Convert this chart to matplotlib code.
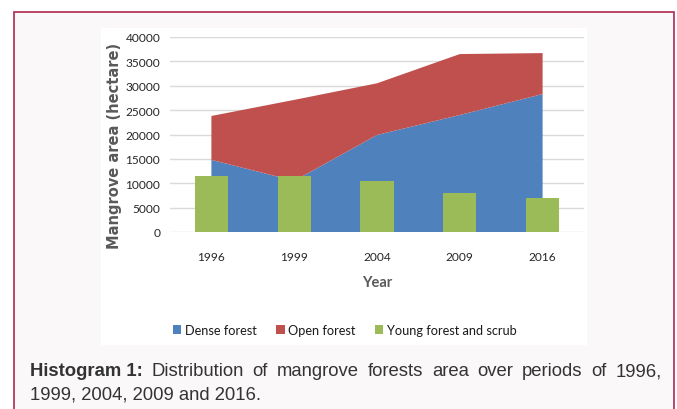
import matplotlib
matplotlib.use("Agg")
import matplotlib.pyplot as plt
from matplotlib.patches import Rectangle
import numpy as np

# data (hectare)
years = ["1996", "1999", "2004", "2009", "2016"]
dense = [14800, 10500, 19900, 24000, 28300]
open_forest = [9000, 16600, 10600, 12500, 8400]
young = [11500, 11500, 10500, 7900, 7000]

caption_bold = "Histogram 1:"
caption_line1 = "Distribution of mangrove forests area over periods of 1996,"
caption_line2 = "1999, 2004, 2009 and 2016."

BLUE = "#4f81bd"
RED = "#c0504d"
GREEN = "#9bbb59"
NARROW = ["Lato", "DejaVu Sans"]

W, H = 677, 410
fig = plt.figure(figsize=(W / 100, H / 100), dpi=100)
fig.patch.set_facecolor("white")

def fx(px):
    return px / W

def fy(py):
    return 1 - py / H

# framed box and white chart panel
fig.patches.append(Rectangle((fx(13.5), fy(430)), fx(660), 417 / H, transform=fig.transFigure,
                             facecolor="#fbf8f9", edgecolor="#b0284f", linewidth=1.2, zorder=-2))
fig.patches.append(Rectangle((fx(101), fy(346)), fx(486), 317 / H, transform=fig.transFigure,
                             facecolor="white", edgecolor="none", zorder=-1))

ax = fig.add_axes([fx(170), fy(233), fx(414), 195 / H])
ax.set_zorder(1)
ax.set_facecolor("none")
x = np.arange(len(years))

ax.stackplot(x, dense, open_forest, colors=[BLUE, RED], labels=["Dense forest", "Open forest"],
             edgecolor="none", zorder=2)
ax.bar(x, young, width=0.4, color=GREEN, label="Young forest and scrub", zorder=3)

ax.set_xlim(-0.5, len(years) - 0.5)
ax.set_ylim(0, 40000)
ax.set_yticks(np.arange(0, 40001, 5000))
ax.set_xticks(x)
ax.set_xticklabels(years)
ax.grid(axis="y", color="#d9d9d9", linewidth=1, zorder=1)
ax.set_axisbelow(True)
for s in ax.spines.values():
    s.set_visible(False)
ax.tick_params(axis="both", length=0, labelsize=8.6, labelcolor="#262626")
ax.tick_params(axis="y", pad=7)
ax.tick_params(axis="x", pad=14)
for lab in ax.get_xticklabels() + ax.get_yticklabels():
    lab.set_family(NARROW)

fig.text(fx(115), fy(146), "Mangrove area (hectare)", rotation=90, ha="center", va="center",
         fontsize=10.5, fontweight="bold", color="#595959", family=["DejaVu Sans"])
fig.text(fx(377), fy(283), "Year", ha="center", va="center", fontsize=10.5,
         fontweight="bold", color="#595959", family=NARROW)

h, l = ax.get_legend_handles_labels()
leg = fig.legend(h, l, loc="center", bbox_to_anchor=(fx(345), fy(331)), ncol=3, frameon=False,
                 handlelength=0.65, handleheight=0.65, handletextpad=0.3, columnspacing=1.5,
                 prop={"family": NARROW, "size": 9.2})
for t in leg.get_texts():
    t.set_color("#1a1a1a")

# caption, first line justified between the frame margins
renderer = fig.canvas.get_renderer()
left, right = 30, 662
words = [(caption_bold, "bold")] + [(w, "normal") for w in caption_line1.split()]
items = []
total = 0
for w, weight in words:
    t = fig.text(0, fy(372), w, fontsize=13.3, fontweight=weight, color="#333333",
                 family=["Liberation Sans", "DejaVu Sans"], va="center")
    wd = t.get_window_extent(renderer).width
    items.append((t, wd))
    total += wd
gap = (right - left - total) / (len(items) - 1)
pos = left
for t, wd in items:
    t.set_x(fx(pos))
    pos += wd + gap
fig.text(fx(left), fy(395), caption_line2, fontsize=13.3, color="#333333",
         family=["Liberation Sans", "DejaVu Sans"], va="center")

fig.savefig("out.png", dpi=100, facecolor="white")
